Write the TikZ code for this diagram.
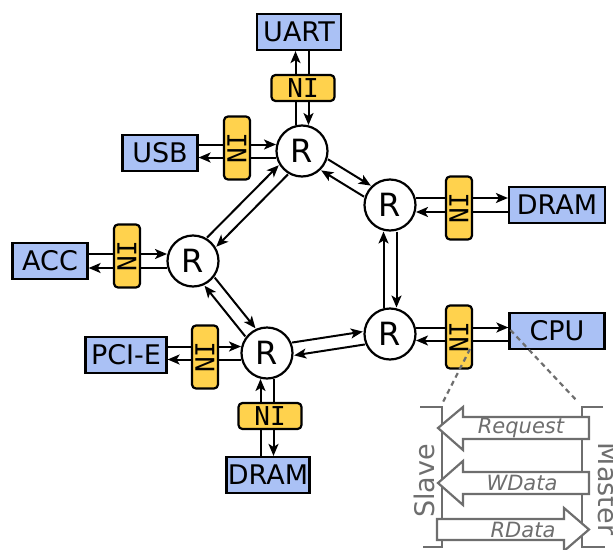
\documentclass[tikz,border=0pt]{standalone}
\usepackage{fontspec}
\setmainfont{DejaVu Sans}
\newfontfamily\nifont{DejaVu Sans Mono}
\usetikzlibrary{calc,backgrounds,arrows.meta}

\definecolor{devblue}{RGB}{170,193,245}
\definecolor{niyellow}{RGB}{255,210,77}
\definecolor{ifgray}{RGB}{110,110,110}

% two opposite one-way lines between two routers
\newcommand\ringlink[2]{%
  \path ($(#1)!6.5pt!90:(#2)$) coordinate (la) ($(#2)!6.5pt!-90:(#1)$) coordinate (lb)
        ($(#1)!6.5pt!-90:(#2)$) coordinate (ma) ($(#2)!6.5pt!90:(#1)$) coordinate (mb);
  \draw[link] ($(la)!26.5pt!(lb)$) -- ($(lb)!26.5pt!(la)$);
  \draw[link] ($(mb)!26.5pt!(ma)$) -- ($(ma)!26.5pt!(mb)$);
}

\begin{document}
\begin{tikzpicture}[x=1pt,y=-1pt,
  dev/.style={draw, line width=2.2pt, fill=devblue, minimum width=#1,
    minimum height=36pt, inner sep=0pt, font=\fontsize{27}{30}\selectfont},
  ni/.style={draw, line width=2.2pt, fill=niyellow, rounded corners=4pt,
    inner sep=0pt, font=\nifont\fontsize{26}{30}\selectfont},
  nih/.style={ni, minimum width=63pt, minimum height=26pt},
  niv/.style={ni, minimum width=63pt, minimum height=26pt, rotate=90},
  router/.style={circle, draw, line width=2.2pt, fill=white, minimum size=51pt,
    inner sep=0pt, font=\fontsize{32}{32}\selectfont},
  link/.style={line width=2pt, -{Stealth[length=12pt,width=10pt,inset=3pt]}},
  ifline/.style={ifgray, line width=2.2pt},
  ifarrow/.style={ifgray, line width=2.2pt, fill=white, line join=miter},
  iflabel/.style={ifgray, font=\fontsize{21}{24}\selectfont\itshape},
  ifside/.style={ifgray, font=\fontsize{27}{30}\selectfont},
]
\useasboundingbox (0,0) rectangle (613,549);

% routers
\node[router] (r1) at (302,151) {R};
\node[router] (r2) at (390,205) {R};
\node[router] (r3) at (390,334) {R};
\node[router] (r4) at (193,261) {R};
\node[router] (r5) at (267,353) {R};

% attached devices
\node[dev=84pt] (uart)  at (299,32)  {UART};
\node[dev=75pt] (usb)   at (160,153) {USB};
\node[dev=96pt] (dram1) at (557,205) {DRAM};
\node[dev=95pt] (cpu)   at (557,331) {CPU};
\node[dev=75pt] (acc)   at (50,261)  {ACC};
\node[dev=81pt] (pci)   at (126,355) {PCI-E};
\node[dev=83pt] (dram2) at (268,475) {DRAM};

% network interfaces
\node[nih] (ni1) at (303,88)  {NI};
\node[niv] (ni2) at (237,148) {NI};
\node[niv] (ni3) at (459,208) {NI};
\node[niv] (ni4) at (459,337) {NI};
\node[niv] (ni5) at (127,256) {NI};
\node[niv] (ni6) at (205,357) {NI};
\node[nih] (ni7) at (270,416) {NI};

\begin{scope}[on background layer]
  % device <-> router links (running under the NIs)
  \draw[link] ($(r1)+(-6.5,-26)$) -- ($(uart.south-|r1)+(-6.5,0)$);
  \draw[link] ($(uart.south-|r1)+(6.5,0)$) -- ($(r1)+(6.5,-26)$);

  \draw[link] ($(usb.east|-r1)+(0,-6.5)$) -- ($(r1)+(-26,-6.5)$);
  \draw[link] ($(r1)+(-26,6.5)$) -- ($(usb.east|-r1)+(0,6.5)$);

  \draw[link] ($(acc.east|-r4)+(0,-7)$) -- ($(r4)+(-26,-7)$);
  \draw[link] ($(r4)+(-26,7)$) -- ($(acc.east|-r4)+(0,7)$);

  \draw[link] ($(pci.east|-r5)+(0,-6.5)$) -- ($(r5)+(-26,-6.5)$);
  \draw[link] ($(r5)+(-26,6.5)$) -- ($(pci.east|-r5)+(0,6.5)$);

  \draw[link] ($(r2)+(26,-7)$) -- ($(dram1.west|-r2)+(0,-7)$);
  \draw[link] ($(dram1.west|-r2)+(0,7)$) -- ($(r2)+(26,7)$);

  \draw[link] ($(r3)+(26,-6.5)$) -- ($(cpu.west|-r3)+(0,-6.5)$);
  \draw[link] ($(cpu.west|-r3)+(0,6.5)$) -- ($(r3)+(26,6.5)$);

  \draw[link] ($(dram2.north-|r5)+(-6.5,0)$) -- ($(r5)+(-6.5,26)$);
  \draw[link] ($(r5)+(6.5,26)$) -- ($(dram2.north-|r5)+(6.5,0)$);
\end{scope}

% router <-> router links
\ringlink{r1}{r4}
\ringlink{r1}{r2}
\ringlink{r2}{r3}
\ringlink{r3}{r5}
\ringlink{r5}{r4}

% interface detail: brackets
\coordinate (bl) at (442,407);
\coordinate (br) at (582,407);
\draw[ifline] (420,407) -- (bl) -- (442,547) -- (423,547);
\draw[ifline] (603,407) -- (br) -- (582,547) -- (605,547);

% channels
\draw[ifarrow] (438,428) -- (463,407) -- (463,417) -- (589,417) -- (589,439)
  -- (463,439) -- (463,450) -- cycle;
\draw[ifarrow] (438,483) -- (463,461) -- (463,472) -- (589,472) -- (589,494)
  -- (463,494) -- (463,505) -- cycle;
\draw[ifarrow] (437,519) -- (564,519) -- (564,508) -- (589,529.5) -- (564,551)
  -- (564,540) -- (437,540) -- cycle;

\node[iflabel] (req) at (521,428) {Request};
\node[iflabel] (wd)  at (522,483) {WData};
\node[iflabel] (rd)  at (523,530) {RData};
\node[ifside, rotate=90]  (slave)  at (424,481) {Slave};
\node[ifside, rotate=-90] (master) at (608,489) {Master};

% zoom lines from the CPU interface
\draw[ifline, dash pattern=on 5pt off 4pt] ($(ni4)+(11,12)$) -- ($(bl)+(1,-5)$);
\draw[ifline, dash pattern=on 5pt off 4pt] ($(cpu.west)+(2,-1)$) -- ($(br)+(-4,-5)$);
\end{tikzpicture}
\end{document}
